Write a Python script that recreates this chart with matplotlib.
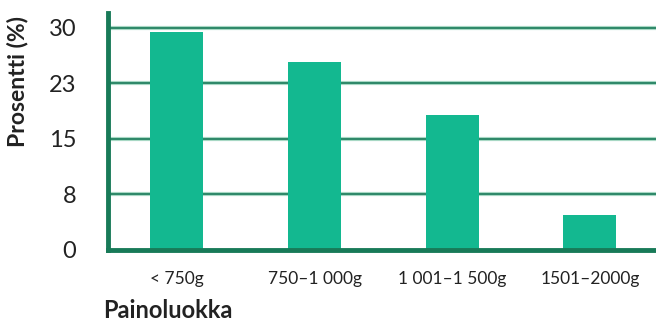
import matplotlib
matplotlib.use("Agg")
import matplotlib.pyplot as plt

categories = ["< 750g", "750–1 000g", "1 001–1 500g", "1501–2000g"]
values = [29.5, 25.4, 18.2, 4.7]
yticks = [0, 7.5, 15, 22.5, 30]
ytick_labels = ["0", "8", "15", "23", "30"]

plt.rcParams['font.family'] = ['Lato', 'DejaVu Sans']

fig = plt.figure(figsize=(6.56, 3.21), dpi=100)
ax = fig.add_axes([108/656, 1-250/321, 1-108/656, (250-13)/321])

dark = "#187a58"
bar_c = "#13b890"

for y in yticks[1:]:
    ax.axhline(y, color="#a8d8c4", lw=3.0, zorder=0)
    ax.axhline(y, color=dark, lw=1.2, zorder=0.5)

ax.bar(range(len(categories)), values, width=0.385, color=bar_c, zorder=2)

ax.set_xlim(-0.5, 3.48)
ax.set_ylim(0, 32)
ax.set_yticks(yticks)
ax.set_yticklabels(ytick_labels, fontsize=17, color="#222222")
ax.set_xticks(range(len(categories)))
ax.set_xticklabels(categories, fontsize=12.5, color="#222222")
ax.tick_params(axis='both', length=0)
ax.tick_params(axis='y', pad=23)
ax.tick_params(axis='x', pad=15)

for s in ["top", "right"]:
    ax.spines[s].set_visible(False)
for s in ["left", "bottom"]:
    ax.spines[s].set_color(dark)
    ax.spines[s].set_linewidth(3.5)

ax.set_ylabel("Prosentti (%)", fontsize=16.5, fontweight="bold", color="#222222")
ax.yaxis.set_label_coords(-0.146, 0.71)
fig.text(103/656, 1-311/321, "Painoluokka", fontsize=17, fontweight="bold",
         color="#222222", va="center", ha="left")

fig.savefig("out.png", dpi=100)
